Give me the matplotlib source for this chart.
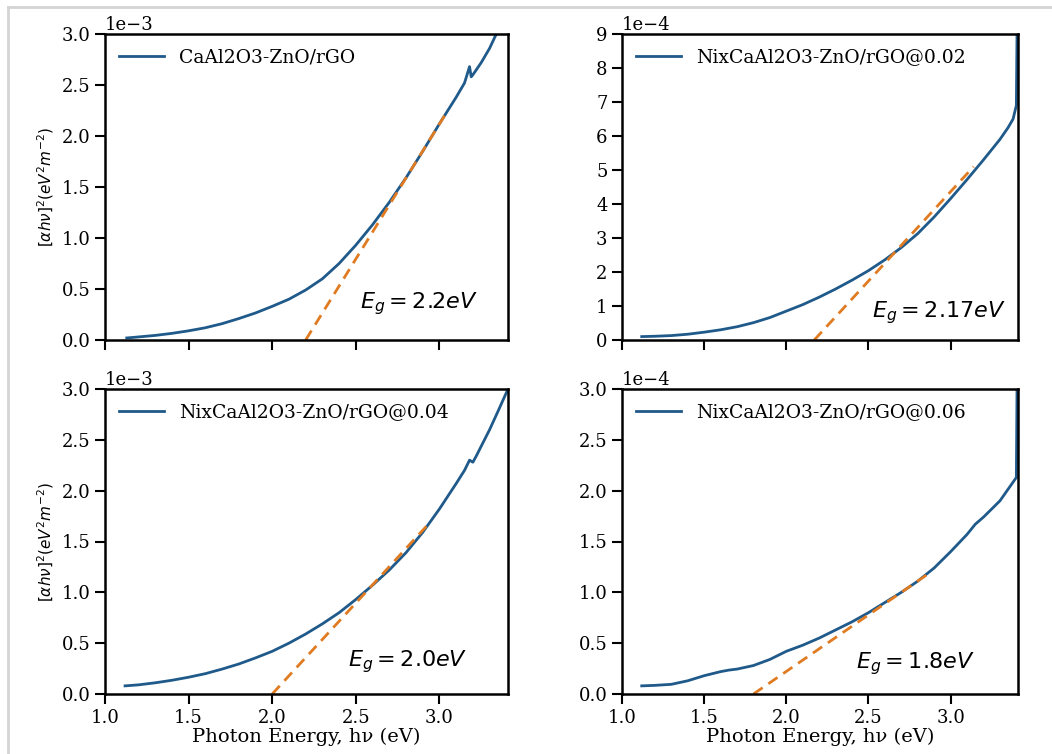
import matplotlib
matplotlib.use("Agg")
import matplotlib.pyplot as plt
from matplotlib.lines import Line2D
import numpy as np

plt.rcParams['font.family'] = ['DejaVu Serif']
plt.rcParams['mathtext.fontset'] = 'dejavusans'

# ---- data ----
labels = ["CaAl2O3-ZnO/rGO", "NixCaAl2O3-ZnO/rGO@0.02",
          "NixCaAl2O3-ZnO/rGO@0.04", "NixCaAl2O3-ZnO/rGO@0.06"]

x_a = [1.13, 1.2, 1.3, 1.4, 1.5, 1.6, 1.7, 1.8, 1.9, 2.0, 2.1, 2.2, 2.3, 2.4, 2.5,
       2.6, 2.7, 2.8, 2.9, 3.0, 3.1, 3.15, 3.18, 3.19, 3.2, 3.25, 3.3, 3.34, 3.4]
y_a = [0.02, 0.03, 0.045, 0.065, 0.09, 0.12, 0.16, 0.21, 0.265, 0.33, 0.40, 0.49,
       0.60, 0.75, 0.93, 1.13, 1.35, 1.59, 1.85, 2.12, 2.38, 2.52, 2.68, 2.58, 2.60,
       2.72, 2.86, 3.0, 3.15]  # x1e-3

x_b = [1.12, 1.2, 1.3, 1.4, 1.5, 1.6, 1.7, 1.8, 1.9, 2.0, 2.1, 2.2, 2.3, 2.4, 2.5,
       2.6, 2.7, 2.8, 2.9, 3.0, 3.1, 3.2, 3.3, 3.35, 3.38, 3.4, 3.405]
y_b = [0.10, 0.11, 0.13, 0.17, 0.23, 0.30, 0.39, 0.51, 0.66, 0.85, 1.04, 1.26,
       1.50, 1.76, 2.04, 2.36, 2.72, 3.13, 3.62, 4.16, 4.72, 5.30, 5.90, 6.25,
       6.50, 6.90, 9.5]  # x1e-4

x_c = [1.12, 1.2, 1.3, 1.4, 1.5, 1.6, 1.7, 1.8, 1.9, 2.0, 2.1, 2.2, 2.3, 2.4, 2.5,
       2.6, 2.7, 2.8, 2.9, 3.0, 3.1, 3.15, 3.18, 3.2, 3.22, 3.3, 3.35, 3.41]
y_c = [0.08, 0.09, 0.11, 0.135, 0.165, 0.20, 0.245, 0.295, 0.355, 0.42, 0.50,
       0.59, 0.69, 0.80, 0.93, 1.07, 1.22, 1.39, 1.59, 1.82, 2.07, 2.20, 2.30,
       2.28, 2.34, 2.60, 2.78, 3.0]  # x1e-3

x_d = [1.12, 1.2, 1.3, 1.4, 1.5, 1.6, 1.65, 1.7, 1.8, 1.9, 2.0, 2.1, 2.2, 2.3,
       2.4, 2.5, 2.6, 2.7, 2.8, 2.9, 3.0, 3.1, 3.15, 3.2, 3.3, 3.4, 3.405]
y_d = [0.08, 0.085, 0.095, 0.13, 0.18, 0.22, 0.235, 0.245, 0.28, 0.34, 0.42,
       0.48, 0.55, 0.63, 0.71, 0.80, 0.90, 1.00, 1.11, 1.24, 1.40, 1.57, 1.67,
       1.74, 1.90, 2.13, 3.2]  # x1e-4

# tangent lines (start = Eg, end point)
fit_x = [[2.2, 3.05], [2.17, 3.14], [2.0, 2.95], [1.8, 2.88]]
fit_y = [[0.0, 2.25], [0.0, 5.1], [0.0, 1.7], [0.0, 1.2]]
eg_text = [r"$E_g = 2.2eV$", r"$E_g = 2.17eV$", r"$E_g = 2.0eV$", r"$E_g = 1.8eV$"]
eg_pos = [(0.78, 0.12), (0.80, 0.09), (0.75, 0.105), (0.74, 0.10)]
scales = [1e-3, 1e-4, 1e-3, 1e-4]
ylims = [3.0, 9.0, 3.0, 3.0]
xs = [x_a, x_b, x_c, x_d]
ys = [y_a, y_b, y_c, y_d]

line_color = '#1f5a8a'
fit_color = '#e07b22'

fig = plt.figure(figsize=(10.52, 7.54), dpi=100)
W, H = 1052, 754
boxes = [(105, 34, 508, 340), (622, 34, 1018, 340),
         (105, 389, 508, 694), (622, 389, 1018, 694)]
axes = []
for (l, t, r, b) in boxes:
    ax = fig.add_axes([l / W, 1 - b / H, (r - l) / W, (b - t) / H])
    axes.append(ax)

for i, ax in enumerate(axes):
    s = scales[i]
    ax.plot(np.array(xs[i]), np.array(ys[i]) * s, color=line_color, lw=2, label=labels[i])
    ax.plot(fit_x[i], np.array(fit_y[i]) * s, color=fit_color, lw=2, ls=(0, (4, 2.5)))
    ax.set_xlim(1.0, 3.41)
    ax.set_ylim(0, ylims[i] * s)
    ax.set_xticks([1.0, 1.5, 2.0, 2.5, 3.0])
    ax.ticklabel_format(axis='y', style='sci', scilimits=(0, 0))
    ax.yaxis.get_offset_text().set_fontsize(13)
    for sp in ax.spines.values():
        sp.set_linewidth(1.8)
    ax.tick_params(direction='out', length=7, width=1.5, labelsize=13)
    ax.legend(loc='upper left', frameon=False, fontsize=13.5, handlelength=2.4,
              borderaxespad=0.35)
    ax.text(eg_pos[i][0], eg_pos[i][1], eg_text[i], transform=ax.transAxes,
            ha='center', va='center', fontsize=16)
    if i < 2:
        ax.tick_params(labelbottom=False)
    else:
        ax.set_xlabel("Photon Energy, h\u03bd (eV)", fontsize=14, labelpad=1)
    if i % 2 == 0:
        ax.set_ylabel(r"$[\alpha h\nu]^2 (eV^2 m^{-2})$", fontsize=11)

axes[1].set_yticks(np.arange(0, 10) * 1e-4)

# figure border (top and left)
fig.add_artist(Line2D([8 / W, 1.0], [1 - 7 / H, 1 - 7 / H], color='#d4d4d4', lw=2,
                      transform=fig.transFigure))
fig.add_artist(Line2D([8 / W, 8 / W], [0, 1 - 7 / H], color='#d4d4d4', lw=2,
                      transform=fig.transFigure))

fig.savefig("out.png", dpi=100)
